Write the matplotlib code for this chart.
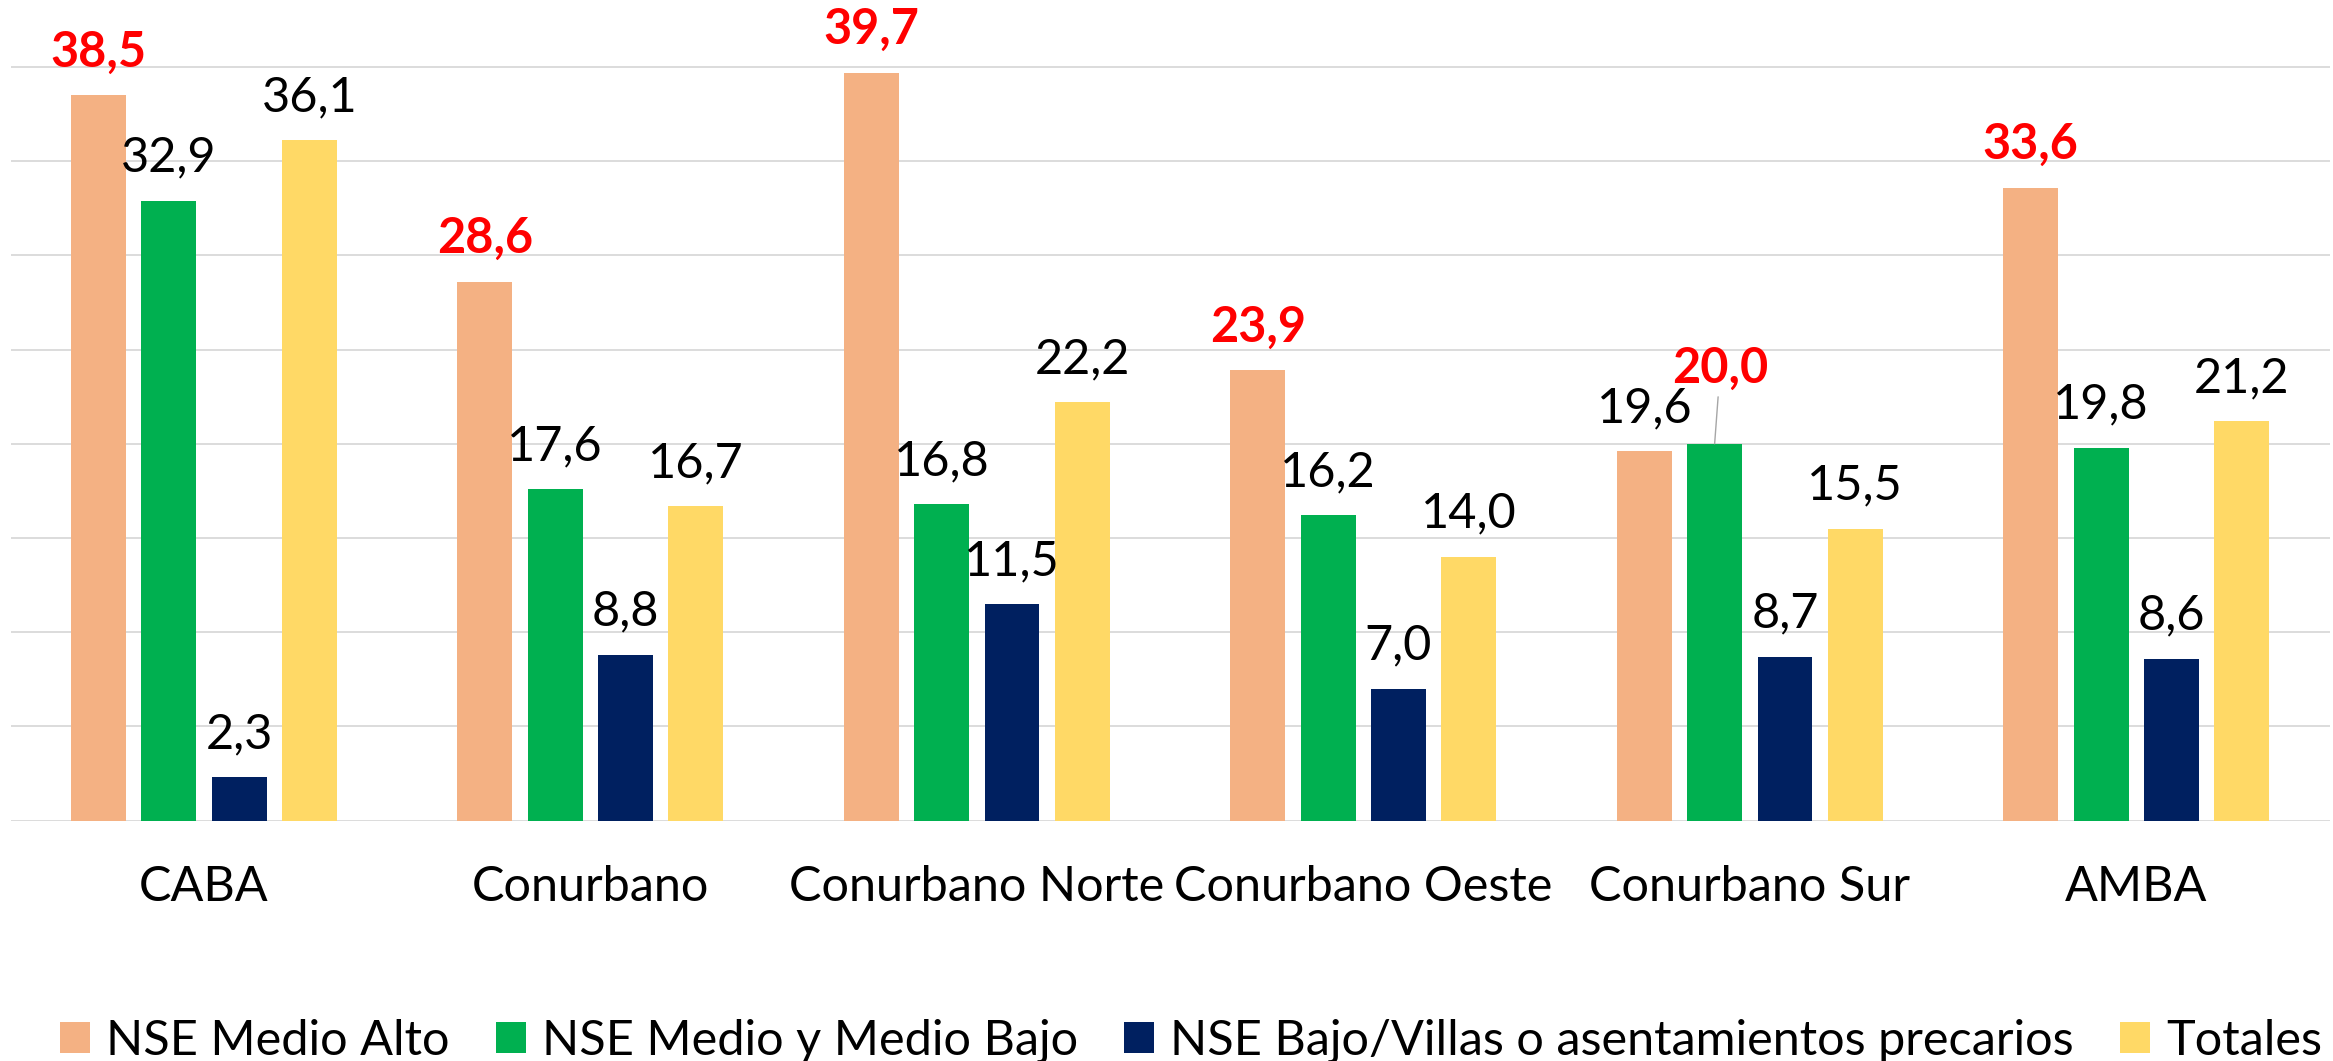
import matplotlib
matplotlib.use('Agg')
import matplotlib.pyplot as plt
import numpy as np

plt.rcParams['font.family'] = ['Lato', 'DejaVu Sans']

categories = ['CABA', 'Conurbano', 'Conurbano Norte', 'Conurbano Oeste',
              'Conurbano Sur', 'AMBA']
series_names = ['NSE Medio Alto', 'NSE Medio y Medio Bajo',
                'NSE Bajo/Villas o asentamientos precarios', 'Totales']
medio_alto = [38.5, 28.6, 39.7, 23.9, 19.6, 33.6]
medio_bajo = [32.9, 17.6, 16.8, 16.2, 20.0, 19.8]
bajo_villas = [2.3, 8.8, 11.5, 7.0, 8.7, 8.6]
totales = [36.1, 16.7, 22.2, 14.0, 15.5, 21.2]

colors = ['#F4B183', '#00B050', '#002060', '#FFD966']
series = [medio_alto, medio_bajo, bajo_villas, totales]

fig = plt.figure(figsize=(23.33, 10.61), dpi=100)
ax = fig.add_axes([0.0046, 0.2265, 0.9939, 0.7140])

x = np.arange(len(categories))
pitch = 0.182
width = 0.142
fs = 35

for i, (vals, col, name) in enumerate(zip(series, colors, series_names)):
  pos = x + (i - 1.5) * pitch
  ax.bar(pos, vals, width, color=col, label=name, zorder=3)

# data labels, highest of each group in bold red
for j in range(len(categories)):
  group = [s[j] for s in series[:3]]
  top = int(np.argmax(group))
  for i, vals in enumerate(series):
    v = vals[j]
    px = x[j] + (i - 1.5) * pitch
    txt = f'{v:.1f}'.replace('.', ',')
    is_max = i == top
    kw = dict(color='#FF0000', fontweight='bold') if is_max else dict(color='black')
    if categories[j] == 'Conurbano Sur' and is_max:
      ax.annotate(txt, (px, v), xytext=(4, 54), textcoords='offset points',
                  ha='center', va='center', fontsize=fs, annotation_clip=False,
                  arrowprops=dict(arrowstyle='-', color='#A6A6A6', lw=1,
                                  shrinkA=2, shrinkB=0), **kw)
    else:
      ax.annotate(txt, (px, v), xytext=(0, 31), textcoords='offset points',
                  ha='center', va='center', fontsize=fs, annotation_clip=False,
                  **kw)

ax.set_xlim(-0.5, len(categories) - 0.5)
ax.set_ylim(0, 40.2)
ax.set_yticks(np.arange(0, 41, 5))
ax.set_yticklabels([])
ax.tick_params(axis='y', length=0)
ax.set_xticks(x)
ax.set_xticklabels(categories, fontsize=fs)
ax.tick_params(axis='x', length=0, pad=32)
ax.grid(axis='y', color='#D9D9D9', lw=1.3, zorder=0)
ax.set_axisbelow(True)
for s in ax.spines.values():
  s.set_visible(False)

fig.legend(loc='center', bbox_to_anchor=(0.5105, 0.019), ncol=4,
           fontsize=fs, frameon=False, handlelength=0.62, handleheight=0.62,
           handletextpad=0.33, columnspacing=0.95, borderaxespad=0)

fig.savefig('out.png', dpi=100)
